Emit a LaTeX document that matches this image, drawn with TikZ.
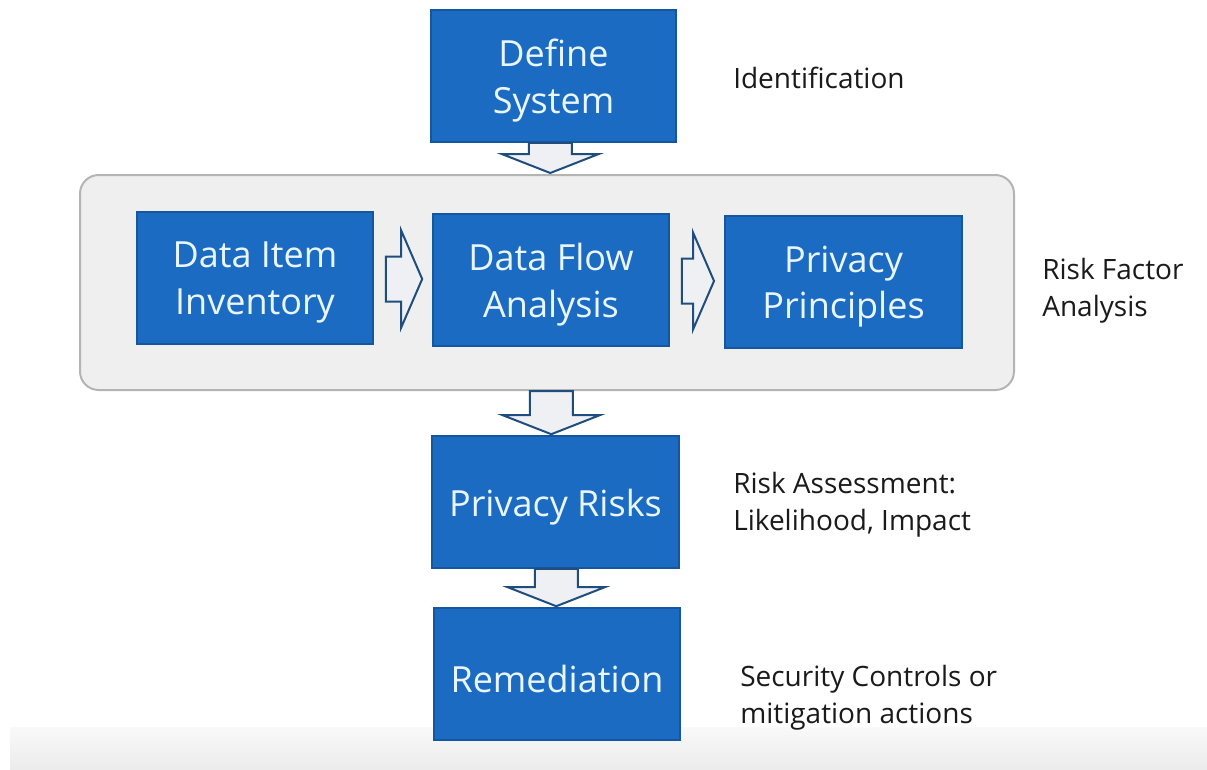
\documentclass[tikz,border=0pt]{standalone}
\usepackage{fontspec}
\setmainfont{Open Sans}
\usetikzlibrary{calc}
\definecolor{boxblue}{HTML}{1B6BC3}
\definecolor{boxedge}{HTML}{14579F}
\definecolor{boxtext}{HTML}{EAF6FF}
\definecolor{arrowedge}{HTML}{1F4E7E}
\definecolor{arrowfill}{HTML}{EEF0F3}
\definecolor{panelfill}{HTML}{EFEFEF}
\definecolor{paneledge}{HTML}{B4B4B4}
\definecolor{labeltext}{HTML}{1A1A1A}

% hollow block arrow pointing down, from the bottom of #1 to the top of #2
\newcommand\flowdown[2]{%
  \path ($(#1.south)!0.5!(#2.north)$) coordinate (fd-mid);
  \draw[blockarrow]
    ($(fd-mid |- #1.south)+(-21.5,0)$) -- ($(fd-mid |- #2.north)+(-21.5,-20)$)
    -- ++(-27,0) -- ($(fd-mid |- #2.north)+(0,-1)$)
    -- ($(fd-mid |- #2.north)+(48.5,-20)$) -- ++(-27,0)
    -- ($(fd-mid |- #1.south)+(21.5,0)$) -- cycle;}

% hollow block arrow pointing right, from the right side of #1 to the left side of #2
\newcommand\flowright[2]{%
  \path ($(#1.east)!0.5!(#2.west)$) coordinate (fr-mid);
  \draw[blockarrow]
    ($(#1.east |- fr-mid)+(12,-22.5)$) -- ($(#2.west |- fr-mid)+(-31,-22.5)$)
    -- ++(0,-26) -- ($(#2.west |- fr-mid)+(-10,0)$)
    -- ($(#2.west |- fr-mid)+(-31,48.5)$) -- ++(0,-26)
    -- ($(#1.east |- fr-mid)+(12,22.5)$) -- cycle;}

\begin{document}
\begin{tikzpicture}[x=0.75pt,y=-0.75pt,
  stepbox/.style={draw=boxedge, fill=boxblue, line width=1.2pt,
    minimum height=99pt, inner sep=0pt},
  steptext/.style={text=boxtext, align=center, inner sep=0pt, yshift=-3.5pt,
    font=\fontsize{27}{35}\selectfont},
  note/.style={anchor=west, align=left, inner sep=0pt, text=labeltext,
    font=\fontsize{21}{27.5}\selectfont},
  blockarrow/.style={draw=arrowedge, fill=arrowfill, line width=1.5pt, line join=miter},
  panel/.style={draw=paneledge, fill=panelfill, line width=1.5pt, rounded corners=14pt}]

\useasboundingbox (0,0) rectangle (1207,769);
\fill[white] (0,0) rectangle (1207,769);

% footer band
\fill[top color=gray!5, bottom color=gray!15] (10,727) rectangle (1207,769);

% risk factor analysis stage
\node[panel, minimum width=700.5pt, minimum height=161.25pt] (stage) at (547,282.5) {};

% process steps
\node[stepbox, minimum width=184pt, label={[steptext]center:{Define\\System}}] (def) at (553.5,76) {};
\node[stepbox, minimum width=177pt, label={[steptext]center:{Data Item\\Inventory}}] (inv) at (255,278) {};
\node[stepbox, minimum width=177pt, label={[steptext]center:{Data Flow\\Analysis}}] (flow) at (551,280) {};
\node[stepbox, minimum width=178pt, label={[steptext]center:{Privacy\\Principles}}] (princ) at (843.5,282) {};
\node[stepbox, minimum width=185pt, label={[steptext]center:{Privacy Risks}}] (risks) at (555.5,502) {};
\node[stepbox, minimum width=184.5pt, label={[steptext]center:{Remediation}}] (remed) at (557,674) {};

% connectors
\flowdown{def}{stage}
\flowright{inv}{flow}
\flowright{flow}{princ}
\flowdown{stage}{risks}
\flowdown{risks}{remed}

% phase labels
\node[note] (lid) at (733,78) {Identification};
\node[note] (lrf) at (1042,291) {Risk Factor\\Analysis};
\node[note] (lra) at (733,505) {Risk Assessment:\\Likelihood, Impact};
\node[note] (lsc) at (740,698) {Security Controls or\\mitigation actions};
\end{tikzpicture}
\end{document}
